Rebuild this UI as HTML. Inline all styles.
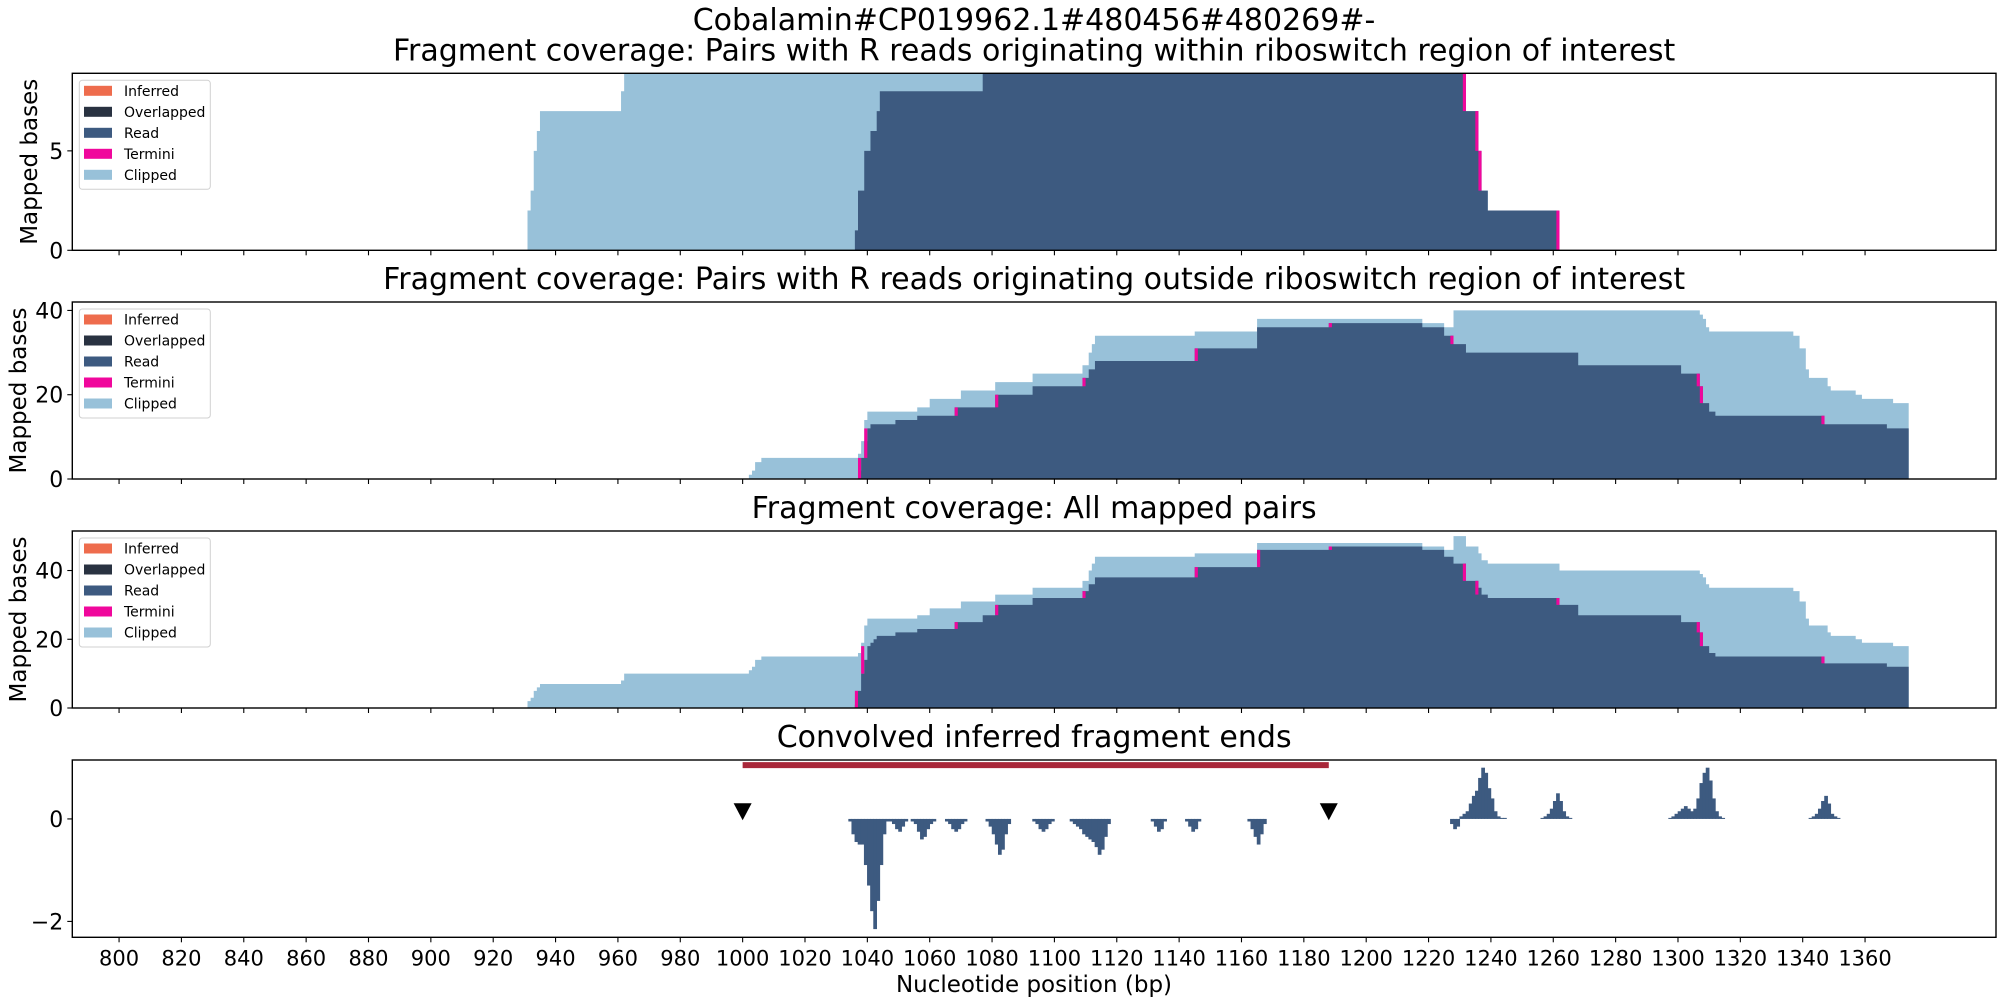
<!DOCTYPE html>
<html><head><meta charset="utf-8"><style>
html,body{margin:0;padding:0;background:#fff;}
svg{display:block;font-family:"DejaVu Sans","Liberation Sans",sans-serif;}
</style></head><body>
<svg id="fig" width="2000" height="1000" viewBox="0 0 2000 1000" xmlns="http://www.w3.org/2000/svg">
<text x="1034" y="30" font-size="30" text-anchor="middle">Cobalamin#CP019962.1#480456#480269#-</text>
<text x="1034" y="992" font-size="23" text-anchor="middle">Nucleotide position (bp)</text>
</svg>
<script>
// ---------- data ----------
const xTicks = [800,820,840,860,880,900,920,940,960,980,1000,1020,1040,1060,1080,1100,1120,1140,1160,1180,1200,1220,1240,1260,1280,1300,1320,1340,1360];
const legendLabels = ["Inferred","Overlapped","Read","Termini","Clipped"];
const legendColors = ["#ee6c4d","#293241","#3d5a80","#f0079c","#98c1d9"];

const panelTitles = [
 "Fragment coverage: Pairs with R reads originating within riboswitch region of interest",
 "Fragment coverage: Pairs with R reads originating outside riboswitch region of interest",
 "Fragment coverage: All mapped pairs",
 "Convolved inferred fragment ends"];

const yTicks1 = [0,5];
const yTicks2 = [0,20,40];
const yTicks3 = [0,20,40];
const yTicks4 = [-2,0];

const total1 = [[931,2],[932,3],[933,5],[934,6],[935,7],[961,8],[962,10],[1232,7],[1236,5],[1237,3],[1239,2],[1262,0]];
const read1 = [[1036,1],[1037,3],[1039,5],[1041,6],[1043,7],[1044,8],[1077,10],[1232,7],[1236,5],[1237,3],[1239,2],[1262,0]];
const termini1 = [[1231,7,9],[1235,5,7],[1236,3,5],[1261,0,2]];

const total2 = [[1002,1],[1003,2],[1004,4],[1006,5],[1037,6],[1038,9],[1039,14],[1040,16],[1056,17],[1060,19],[1070,21],[1081,23],[1093,25],[1109,27],[1111,30],[1112,32],[1113,34],[1145,35],[1165,38],[1218,37],[1225,36],[1228,40],[1307,39],[1308,38],[1309,36],[1310,35],[1337,34],[1339,31],[1341,26],[1342,24],[1348,22],[1349,21],[1357,20],[1359,19],[1369,18],[1374,0]];
const read2 = [[1037,2],[1038,5],[1039,9],[1040,12],[1041,13],[1049,14],[1056,15],[1068,17],[1081,20],[1093,22],[1109,24],[1111,26],[1113,28],[1145,31],[1165,36],[1188,37],[1218,36],[1225,34],[1228,32],[1232,30],[1268,27],[1301,25],[1307,22],[1308,18],[1310,16],[1312,15],[1347,13],[1367,12],[1374,0]];
const termini2 = [[1037,0,5],[1039,5,12],[1068,15,17],[1081,17,20],[1109,22,24],[1145,28,31],[1188,36,37],[1227,32,34],[1306,22,25],[1307,18,22],[1346,13,15]];

const total3 = [[931,2],[932,3],[933,5],[934,6],[935,7],[961,8],[962,10],[1002,11],[1003,12],[1004,14],[1006,15],[1037,16],[1038,19],[1039,24],[1040,26],[1056,27],[1060,29],[1070,31],[1081,33],[1093,35],[1109,37],[1111,40],[1112,42],[1113,44],[1145,45],[1165,48],[1218,47],[1225,46],[1228,50],[1232,47],[1236,45],[1237,43],[1239,42],[1262,40],[1307,39],[1308,38],[1309,36],[1310,35],[1337,34],[1339,31],[1341,26],[1342,24],[1348,22],[1349,21],[1357,20],[1359,19],[1369,18],[1374,0]];
const read3 = [[1036,1],[1037,5],[1038,10],[1039,14],[1040,18],[1041,19],[1042,20],[1043,21],[1049,22],[1056,23],[1068,25],[1077,27],[1081,30],[1093,32],[1109,34],[1111,36],[1113,38],[1145,41],[1165,46],[1188,47],[1218,46],[1225,44],[1228,42],[1232,37],[1236,35],[1237,33],[1239,32],[1262,30],[1268,27],[1301,25],[1307,22],[1308,18],[1310,16],[1312,15],[1347,13],[1367,12],[1374,0]];
const termini3 = [[1036,0,5],[1038,10,18],[1068,23,25],[1081,27,30],[1109,32,34],[1145,38,41],[1165,41,46],[1188,46,47],[1231,37,42],[1235,33,37],[1261,30,32],[1306,22,25],[1307,18,22],[1346,13,15]];

// convolved inferred ends: cluster start positions and per-bp values
const convStarts = [1034,1047,1054,1065,1078,1093,1105,1131,1142,1162,1227,1256,1297,1342];
const convVals = [
 [-0.05,-0.3,-0.45,-0.5,-0.5,-0.9,-1.3,-1.8,-2.15,-1.6,-0.9,-0.3,-0.05],
 [-0.05,-0.1,-0.2,-0.25,-0.15,-0.05],
 [-0.05,-0.1,-0.25,-0.4,-0.35,-0.2,-0.1,-0.05],
 [-0.05,-0.1,-0.2,-0.25,-0.2,-0.1,-0.05],
 [-0.05,-0.15,-0.3,-0.5,-0.7,-0.6,-0.3,-0.1],
 [-0.05,-0.1,-0.2,-0.25,-0.2,-0.1,-0.05],
 [-0.05,-0.1,-0.15,-0.2,-0.3,-0.35,-0.4,-0.45,-0.55,-0.7,-0.6,-0.35,-0.1],
 [-0.05,-0.15,-0.25,-0.2,-0.05],
 [-0.05,-0.15,-0.25,-0.2,-0.05],
 [-0.05,-0.2,-0.35,-0.5,-0.3,-0.1],
 [-0.1,-0.2,-0.15,0.05,0.1,0.15,0.3,0.45,0.55,0.8,1.0,0.9,0.6,0.4,0.15,0.05,0.02,0.02],
 [0.02,0.05,0.1,0.2,0.35,0.5,0.35,0.15,0.05,0.02],
 [0.02,0.05,0.1,0.15,0.2,0.25,0.2,0.15,0.2,0.4,0.7,0.9,1.0,0.75,0.4,0.15,0.05,0.02],
 [0.02,0.05,0.1,0.2,0.35,0.45,0.3,0.1,0.05,0.02]];
const regionBar = [1000,1188];
const regionBarY = [1.05];
const markerX = [1000,1188];
const markerY = [0.15];

// ---------- layout ----------
const NS = "http://www.w3.org/2000/svg";
const svg = document.getElementById('fig');
const AX_L = 72.3, AX_R = 1996, XMIN = 785, XMAX = 1402;
const panels = [
 {top:73.3, bot:250.3, ymin:0, ymax:8.9, ticks:yTicks1, total:total1, read:read1, term:termini1, legend:true, ylabel:37},
 {top:302, bot:479, ymin:0, ymax:42, ticks:yTicks2, total:total2, read:read2, term:termini2, legend:true, ylabel:26},
 {top:531, bot:708, ymin:0, ymax:51.5, ticks:yTicks3, total:total3, read:read3, term:termini3, legend:true, ylabel:26},
 {top:760, bot:937.3, ymin:-2.31, ymax:1.15, ticks:yTicks4, conv:true}
];
function xS(v){ return AX_L + (v - XMIN) * (AX_R - AX_L) / (XMAX - XMIN); }
function mk(tag, attrs, parent){
  const e = document.createElementNS(NS, tag);
  for (const k in attrs) e.setAttribute(k, attrs[k]);
  (parent || svg).appendChild(e);
  return e;
}
function stepPath(steps, yS, y0){
  let d = "M" + xS(steps[0][0]) + "," + y0;
  for (let i = 0; i < steps.length - 1; i++){
    const y = yS(steps[i][1]);
    d += " L" + xS(steps[i][0]) + "," + y + " L" + xS(steps[i+1][0]) + "," + y;
  }
  d += " L" + xS(steps[steps.length-1][0]) + "," + y0 + " Z";
  return d;
}

panels.forEach((p, pi) => {
  const yS = v => p.bot - (v - p.ymin) * (p.bot - p.top) / (p.ymax - p.ymin);
  const g = mk('g', {});
  
  
  const cp = mk('clipPath', {id:'clip'+pi}, g);
  mk('rect', {x:AX_L, y:p.top, width:AX_R-AX_L, height:p.bot-p.top}, cp);
  const data = mk('g', {'clip-path':'url(#clip'+pi+')'}, g);
  
  

  if (!p.conv){
    const t = mk('path', {d:stepPath(p.total, yS, p.bot), fill:'#98c1d9'}, data);
    
    
    const r = mk('path', {d:stepPath(p.read, yS, p.bot), fill:'#3d5a80'}, data);
    
    
    p.term.forEach(tm => {
      const e = mk('rect', {x:xS(tm[0]), y:yS(tm[2]), width:xS(tm[0]+1)-xS(tm[0]), height:yS(tm[1])-yS(tm[2]), fill:'#f0079c'}, data);
      
      
    });
  } else {
    convStarts.forEach((s, ci) => {
      convVals[ci].forEach((v, k) => {
        const x0 = xS(s + k), x1 = xS(s + k + 1);
        const ya = yS(Math.max(v,0)), yb = yS(Math.min(v,0));
        const b = mk('rect', {x:x0-0.3, y:ya, width:x1-x0+0.6, height:Math.max(yb-ya,0.5), fill:'#3d5a80'}, data);
        
        
      });
    });
    const rb = mk('line', {x1:xS(regionBar[0]), x2:xS(regionBar[1]), y1:yS(regionBarY[0]), y2:yS(regionBarY[0]), stroke:'#a8283a', 'stroke-width':6}, data);
    
    
    markerX.forEach(mx => {
      const cx = xS(mx), cy = yS(markerY[0]);
      const m = mk('polygon', {points:(cx-9)+","+(cy-8)+" "+(cx+9)+","+(cy-8)+" "+cx+","+(cy+9), fill:'#000'}, data);
      
      
    });
  }

  // frame
  const fr = mk('rect', {x:AX_L, y:p.top, width:AX_R-AX_L, height:p.bot-p.top, fill:'none', stroke:'#000', 'stroke-width':1.4}, g);
  
  

  // x ticks
  xTicks.forEach(t => {
    const x = xS(t);
    const tk = mk('line', {x1:x, x2:x, y1:p.bot, y2:p.bot+5, stroke:'#000', 'stroke-width':1.1}, g);
    
    
    if (pi === 3){
      const tl = mk('text', {x:x, y:p.bot+28, 'font-size':21, 'text-anchor':'middle'}, g);
      tl.textContent = t;
      
      
    }
  });
  // y ticks
  p.ticks.forEach(t => {
    const y = yS(t);
    const tk = mk('line', {x1:AX_L-5, x2:AX_L, y1:y, y2:y, stroke:'#000', 'stroke-width':1.1}, g);
    
    
    const tl = mk('text', {x:AX_L-9, y:y+8, 'font-size':22, 'text-anchor':'end'}, g);
    tl.textContent = t < 0 ? '\u2212' + Math.abs(t) : t;
    
    
  });
  // title
  const tt = mk('text', {x:(AX_L+AX_R)/2, y:p.top-13, 'font-size':30, 'text-anchor':'middle'}, g);
  tt.textContent = panelTitles[pi];
  
  
  // y label
  if (p.ylabel){
    const cx = p.ylabel, cy = (p.top+p.bot)/2;
    const yl = mk('text', {x:cx, y:cy, 'font-size':23, 'text-anchor':'middle', transform:'rotate(-90 '+cx+' '+cy+')'}, g);
    yl.textContent = 'Mapped bases';
    
    
  }
  // legend
  if (p.legend){
    const lg = mk('g', {}, g);
    
    
    mk('rect', {x:AX_L+7, y:p.top+7, width:131, height:109, rx:3, fill:'#fff', 'fill-opacity':0.8, stroke:'#d0d0d0', 'stroke-width':1}, lg);
    legendLabels.forEach((lab, i) => {
      const cy = p.top + 17.5 + i*21;
      const e = mk('g', {}, lg);
      
      
      mk('rect', {x:84, y:cy-5, width:28, height:10, fill:legendColors[i]}, e);
      const tx = mk('text', {x:124, y:cy+5, 'font-size':14}, e);
      tx.textContent = lab;
    });
  }
});
</script>
</body></html>
